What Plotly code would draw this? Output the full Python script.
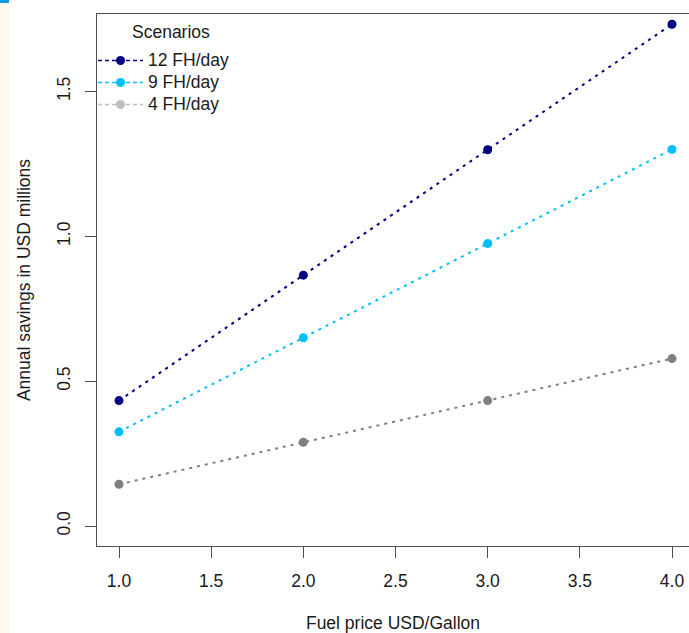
import plotly.graph_objects as go

# Fuel price (USD per gallon) and annual savings (USD millions) per scenario
fuel_price = [1.0, 2.0, 3.0, 4.0]
savings_12fh = [0.433, 0.866, 1.299, 1.732]
savings_9fh = [0.325, 0.650, 0.975, 1.300]
savings_4fh = [0.144, 0.289, 0.433, 0.578]

scenario_names = ["12 FH/day", "9 FH/day", "4 FH/day"]
scenario_values = [savings_12fh, savings_9fh, savings_4fh]
line_colors = ["#000080", "#00BFFF", "#7F7F7F"]
legend_colors = ["#000080", "#00BFFF", "#BEBEBE"]

x_ticks = [1.0, 1.5, 2.0, 2.5, 3.0, 3.5, 4.0]
y_ticks = [0.0, 0.5, 1.0, 1.5]

FONT = "Liberation Sans, Arial, sans-serif"
FS = 17.5
LEGEND_ROW_FS = 14.6  # controls legend row spacing
AXIS_COLOR = "#4d4d4d"

W, H = 689, 633
L, T, B = 97, 14, 87
plot_w = W - L
plot_h = H - T - B


def px_x(p):
    return (p - L) / plot_w


def px_y(p):
    return (H - B - p) / plot_h


fig = go.Figure()

for name, vals, col in zip(scenario_names, scenario_values, line_colors):
    fig.add_trace(go.Scatter(
        x=fuel_price, y=vals, mode="lines+markers", name=name,
        line=dict(color=col, width=2, dash="3px,5px"),
        marker=dict(color=col, size=9),
        showlegend=False, hoverinfo="skip",
    ))

# legend entries (dashed keys)
for name, col in zip(scenario_names, legend_colors):
    fig.add_trace(go.Scatter(
        x=[None], y=[None], mode="lines+markers",
        name=f"<span style='font-size:{FS}px'>{name}</span>",
        line=dict(color=col, width=1.6, dash="4px,3px"),
        marker=dict(color=col, size=9),
        showlegend=True,
    ))

fig.update_layout(
    width=W, height=H,
    margin=dict(l=L, r=0, t=T, b=B, pad=0),
    paper_bgcolor="white", plot_bgcolor="white",
    font=dict(family=FONT, size=FS, color="#1a1a1a"),
    showlegend=True,
    legend=dict(
        x=px_x(93), y=px_y(44.5), xanchor="left", yanchor="top",
        bgcolor="rgba(0,0,0,0)", borderwidth=0,
        font=dict(family=FONT, size=LEGEND_ROW_FS, color="#1a1a1a"),
        itemwidth=45, tracegroupgap=0,
    ),
    xaxis=dict(
        range=[0.8806, 4.0922], tickvals=x_ticks,
        ticktext=[f"{v:.1f}" for v in x_ticks],
        showgrid=False, zeroline=False,
        showline=True, linecolor=AXIS_COLOR, linewidth=1.3, mirror=True,
        ticks="outside", ticklen=11, tickwidth=1.1, tickcolor=AXIS_COLOR,
        ticklabelstandoff=8,
        title=dict(text="Fuel price USD/Gallon", standoff=26,
                   font=dict(family=FONT, size=FS)),
    ),
    yaxis=dict(
        range=[-0.069, 1.7675], tickvals=y_ticks,
        ticktext=[f"{v:.1f}" for v in y_ticks],
        tickangle=-90,
        showgrid=False, zeroline=False,
        showline=True, linecolor=AXIS_COLOR, linewidth=1.3,
        ticks="outside", ticklen=11, tickwidth=1.1, tickcolor=AXIS_COLOR,
        ticklabelstandoff=8,
        title=dict(text="Annual savings in USD millions", standoff=18,
                   font=dict(family=FONT, size=FS)),
    ),
    annotations=[dict(
        text="Scenarios", xref="paper", yref="paper",
        x=px_x(130), y=px_y(32), xanchor="left", yanchor="middle",
        showarrow=False, font=dict(family=FONT, size=FS, color="#1a1a1a"),
    )],
    shapes=[
        dict(type="rect", xref="paper", yref="paper",
             x0=px_x(0), x1=px_x(9), y0=px_y(H), y1=px_y(0),
             fillcolor="#FEF9EE", line=dict(width=0), layer="below"),
        dict(type="rect", xref="paper", yref="paper",
             x0=px_x(0), x1=px_x(9), y0=px_y(3), y1=px_y(0),
             fillcolor="#0A9BE0", line=dict(width=0), layer="above"),
    ],
)

fig.write_html("out.html")
